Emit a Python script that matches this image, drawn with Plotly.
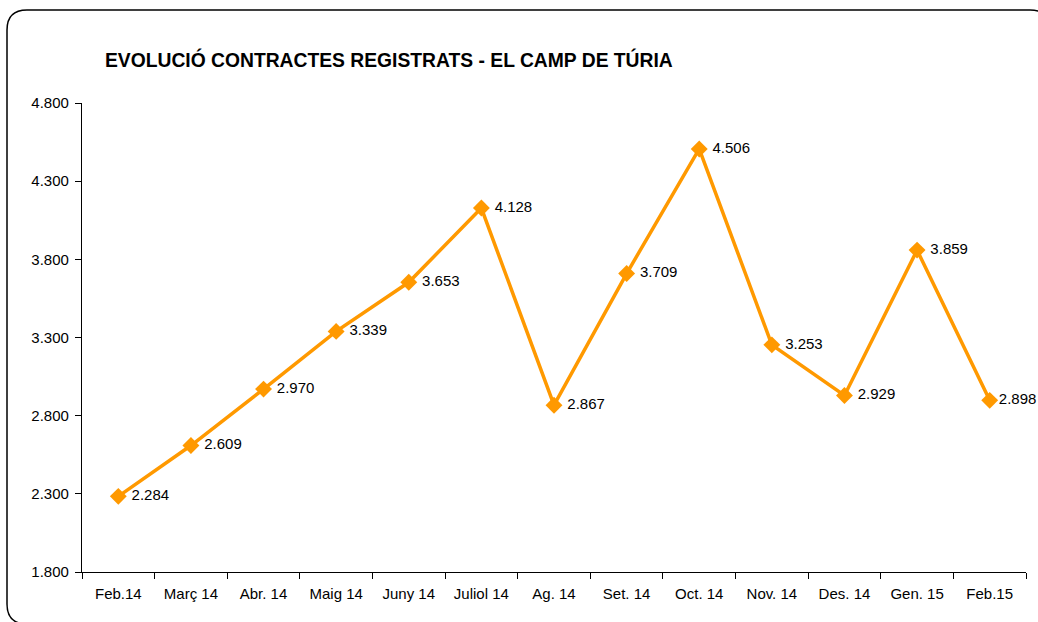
import plotly.graph_objects as go

categories = ["Feb.14", "Març 14", "Abr. 14", "Maig 14", "Juny 14", "Juliol 14", "Ag. 14",
              "Set. 14", "Oct. 14", "Nov. 14", "Des. 14", "Gen. 15", "Feb.15"]
values = [2284, 2609, 2970, 3339, 3653, 4128, 2867, 3709, 4506, 3253, 2929, 3859, 2898]
title_text = "EVOLUCIÓ CONTRACTES REGISTRATS - EL CAMP DE TÚRIA"

W, H = 1038, 622
L, R, T, B = 82, 12, 103, 50
pw, ph = W - L - R, H - T - B

def px(x):
    return (x - L) / pw

def py(y):
    return (H - B - y) / ph

# label template per point (last one hugs the marker so it fits the frame)
templates = [" %{y:,}"] * (len(values) - 1) + ["%{y:,}"]

fig = go.Figure()
fig.add_trace(go.Scatter(
    x=categories, y=values, mode="lines+markers+text",
    line=dict(color="#FF9900", width=3.5),
    marker=dict(symbol="diamond", size=13, color="#FF9900"),
    texttemplate=templates, textposition="middle right",
    textfont=dict(family="Liberation Sans, Arial", size=15, color="#000000"),
    cliponaxis=False, showlegend=False,
))

# rounded frame
x0, y0, x1, y1, r = 7, 10, 1050, 624, 20
path = (f"M {px(x0+r)},{py(y0)} L {px(x1-r)},{py(y0)} "
        f"Q {px(x1)},{py(y0)} {px(x1)},{py(y0+r)} L {px(x1)},{py(y1-r)} "
        f"Q {px(x1)},{py(y1)} {px(x1-r)},{py(y1)} L {px(x0+r)},{py(y1)} "
        f"Q {px(x0)},{py(y1)} {px(x0)},{py(y1-r)} L {px(x0)},{py(y0+r)} "
        f"Q {px(x0)},{py(y0)} {px(x0+r)},{py(y0)} Z")
fig.add_shape(type="path", path=path, xref="paper", yref="paper",
              line=dict(color="#000000", width=1.5), layer="below")

fig.update_layout(
    width=W, height=H,
    margin=dict(l=L, r=R, t=T, b=B),
    paper_bgcolor="white", plot_bgcolor="white",
    separators=",.",
    font=dict(family="Liberation Sans, Arial", size=15, color="#000000"),
    title=dict(text=f"<b>{title_text}</b>", x=105 / W, xanchor="left",
               y=1 - 60 / H, yanchor="middle", xref="container", yref="container",
               font=dict(size=19.3, family="Liberation Sans, Arial", color="#000000")),
    xaxis=dict(type="category", range=[-0.5, len(categories) - 0.5],
               showline=True, linecolor="#000000", linewidth=1.3,
               ticks="outside", ticklen=6, tickcolor="#000000", tickson="boundaries",
               showgrid=False, tickfont=dict(size=15), zeroline=False,
               ticklabelstandoff=8),
    yaxis=dict(range=[1800, 4800], dtick=500, tick0=1800, tickformat=",d",
               showline=True, linecolor="#000000", linewidth=1.3,
               ticks="outside", ticklen=6, tickcolor="#000000",
               showgrid=False, zeroline=False, tickfont=dict(size=15),
               ticklabelstandoff=3),
)

fig.write_html("out.html", config={"displayModeBar": False},
               post_script="document.body.style.margin='0px';")
